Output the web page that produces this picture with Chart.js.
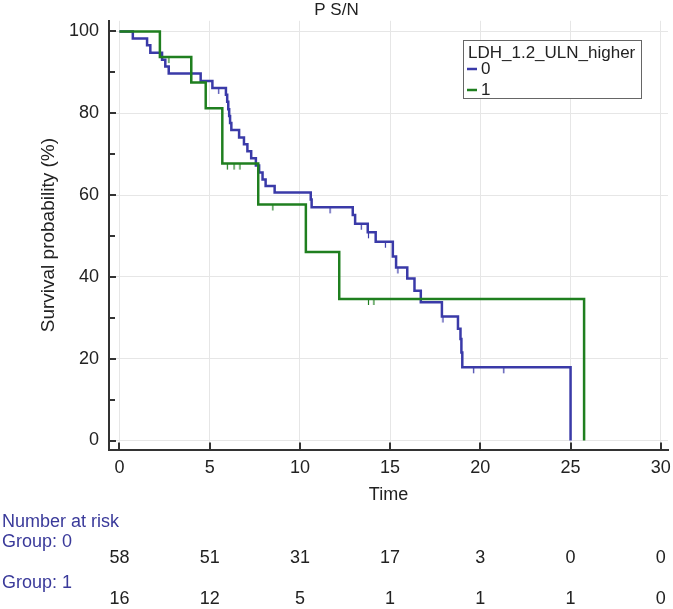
<!DOCTYPE html>
<html>
<head>
<meta charset="utf-8">
<script src="https://cdn.jsdelivr.net/npm/chart.js@4/dist/chart.umd.min.js"></script>
<style>
body{margin:0;background:#fff}
</style>
</head>
<body>
<canvas id="myChart" width="673" height="609"></canvas>
<script>
// group 0 (blue) km steps
var times0 = [0, 0.74, 1.53, 1.71, 2.36, 2.54, 2.73, 4.5, 5.15, 5.9, 5.97, 6.03, 6.08, 6.13, 6.2, 6.63, 6.9, 7.09, 7.3, 7.56, 7.74, 7.93, 8.1, 8.6, 10.6, 10.65, 12.93, 13.06, 13.76, 14.2, 15.15, 15.33, 15.95, 16.35, 16.7, 17.87, 18.76, 18.9, 18.95, 19.0, 25.0]
var surv0 = [100, 98.3, 96.6, 94.8, 93.1, 91.4, 89.7, 87.9, 86.2, 84.5, 82.8, 81.0, 79.3, 77.6, 75.9, 74.1, 72.4, 70.7, 69.0, 67.2, 65.5, 63.8, 62.2, 60.6, 58.9, 57.0, 55.1, 53.0, 50.9, 48.6, 45.0, 42.3, 39.6, 36.6, 33.8, 30.3, 27.3, 24.8, 21.5, 17.9, 0]
var censT0 = [5.5, 11.67, 13.4, 13.8, 14.74, 15.43, 17.93, 19.63, 21.3]
var censS0 = [86.2, 57.0, 53.0, 50.9, 48.6, 42.3, 30.3, 17.9, 17.9]

// group 1 (green)
var times1 = [0, 2.24, 3.98, 4.78, 5.7, 7.69, 10.33, 12.18, 25.75]
var surv1 = [100, 93.75, 87.5, 81.25, 67.7, 57.7, 46.1, 34.6, 0]
var censT1 = [2.74, 5.98, 6.35, 6.68, 8.5, 13.8, 14.1]
var censS1 = [93.75, 67.7, 67.7, 67.7, 57.7, 34.6, 34.6]

var xTicks = [0, 5, 10, 15, 20, 25, 30]
var yTicks = [0, 10, 20, 30, 40, 50, 60, 70, 80, 90, 100]
var groupNames = ["0", "1"]
var riskGroup0 = [58, 51, 31, 17, 3, 0, 0]
var riskGroup1 = [16, 12, 5, 1, 1, 1, 0]

var blue = "#3a3aa8"
var green = "#1f7f1f"

function pts(xs, ys){
    var out = []
    for (var i = 0; i < xs.length; i++){
        out.push({x: xs[i], y: ys[i]})
    }
    return out
}

// censor mark: small tick hanging below the curve
function censMark(col){
    var cv = document.createElement("canvas")
    cv.width = 3
    cv.height = 14
    var g = cv.getContext("2d")
    g.strokeStyle = col
    g.lineWidth = 1.2
    g.beginPath()
    g.moveTo(1.5, 7)
    g.lineTo(1.5, 13)
    g.stroke()
    return cv
}

Chart.defaults.font.family = "'Liberation Sans', Arial, sans-serif"
Chart.defaults.color = "#222"

var innerTicks = {
    id: "innerTicks",
    afterDraw: function(chart){
        var c = chart.ctx
        var a = chart.chartArea
        var sx = chart.scales.x, sy = chart.scales.y
        c.save()
        c.strokeStyle = "#333"
        c.lineWidth = 2
        c.beginPath()
        sx.ticks.forEach(function(t){
            var px = Math.round(sx.getPixelForValue(t.value))
            c.moveTo(px, a.bottom)
            c.lineTo(px, a.bottom - 7)
        })
        sy.ticks.forEach(function(t){
            var py = Math.round(sy.getPixelForValue(t.value))
            c.moveTo(a.left, py)
            c.lineTo(a.left + (t.value % 20 == 0 ? 7 : 6), py)
        })
        c.stroke()
        c.restore()
    }
}

var kmLegend = {
    id: "kmLegend",
    afterDraw: function(chart){
        var c = chart.ctx
        c.save()
        c.fillStyle = "#fff"
        c.fillRect(463, 40, 178, 58)
        c.strokeStyle = "#666"
        c.lineWidth = 1
        c.strokeRect(463.5, 40.5, 178, 58)
        c.font = "17px 'Liberation Sans', Arial, sans-serif"
        c.textBaseline = "middle"
        c.textAlign = "left"
        c.fillStyle = "#222"
        c.fillText("LDH_1.2_ULN_higher", 468, 53)
        var cols = [blue, green]
        var ys = [69, 90]
        for (var i = 0; i < groupNames.length; i++){
            c.strokeStyle = cols[i]
            c.lineWidth = 2.5
            c.beginPath()
            c.moveTo(467, ys[i])
            c.lineTo(477, ys[i])
            c.stroke()
            c.fillStyle = "#222"
            c.fillText(groupNames[i], 481, ys[i])
        }
        c.restore()
    }
}

var riskTable = {
    id: "riskTable",
    afterDraw: function(chart){
        var c = chart.ctx
        var sx = chart.scales.x
        c.save()
        c.font = "18px 'Liberation Sans', Arial, sans-serif"
        c.textBaseline = "middle"
        c.textAlign = "left"
        c.fillStyle = "#3a3a9a"
        c.fillText("Number at risk", 2, 522)
        c.fillText("Group: " + groupNames[0], 2, 542)
        c.fillText("Group: " + groupNames[1], 2, 583)
        c.fillStyle = "#222"
        c.textAlign = "center"
        for (var i = 0; i < xTicks.length; i++){
            var px = sx.getPixelForValue(xTicks[i])
            c.fillText(String(riskGroup0[i]), px, 558)
            c.fillText(String(riskGroup1[i]), px, 599)
        }
        c.restore()
    }
}

var ctx = document.getElementById("myChart")
var chart = new Chart(ctx, {
    type: "line",
    data: {
        datasets: [{
            label: "1",
            data: pts(times1, surv1),
            borderColor: green,
            borderWidth: 2.5,
            stepped: true,
            pointRadius: 0,
            fill: false,
            order: 0
        },
        {
            label: "0",
            data: pts(times0, surv0),
            borderColor: blue,
            borderWidth: 2.5,
            stepped: true,
            pointRadius: 0,
            fill: false,
            order: 1
        },
        {
            label: "cens1",
            data: pts(censT1, censS1),
            showLine: false,
            pointStyle: censMark(green),
            pointRadius: 4,
            order: 0
        },
        {
            label: "cens0",
            data: pts(censT0, censS0),
            showLine: false,
            pointStyle: censMark(blue),
            pointRadius: 4,
            order: 1
        }]
    },
    options: {
        responsive: false,
        animation: false,
        layout: {padding: {top: 0, left: 0, right: 0, bottom: 103.5}},
        plugins: {
            legend: {display: false},
            tooltip: {enabled: false},
            title: {
                display: true,
                text: "P S/N",
                color: "#222",
                font: {size: 17, weight: "normal"},
                padding: {top: 0, bottom: 0}
            }
        },
        scales: {
            x: {
                type: "linear",
                min: -0.58,
                max: 30.4,
                afterBuildTicks: function(s){ s.ticks = xTicks.map(function(v){ return {value: v} }) },
                afterFit: function(s){ s.height = 56; s.paddingRight = 0 },
                grid: {color: "#e6e6e6", drawTicks: false},
                border: {color: "#333", width: 2},
                ticks: {font: {size: 18}, padding: 8, maxRotation: 0, color: "#222"},
                title: {display: true, text: "Time", font: {size: 18}, color: "#222", padding: {top: 2, bottom: 0}}
            },
            y: {
                min: -2.2,
                max: 102.6,
                afterBuildTicks: function(s){ s.ticks = yTicks.map(function(v){ return {value: v} }) },
                afterFit: function(s){ s.width = 109 },
                grid: {
                    color: function(c){ return c.tick && c.tick.value % 20 == 0 ? "#e6e6e6" : "rgba(0,0,0,0)" },
                    drawTicks: false
                },
                border: {color: "#333", width: 2},
                ticks: {
                    font: {size: 18},
                    padding: 10,
                    color: "#222",
                    callback: function(v){ return v % 20 == 0 ? v : "" }
                },
                title: {display: true, text: "Survival probability (%)", font: {size: 19}, color: "#222", padding: {top: 37, bottom: 0}}
            }
        }
    },
    plugins: [innerTicks, kmLegend, riskTable]
})
</script>
</body>
</html>
